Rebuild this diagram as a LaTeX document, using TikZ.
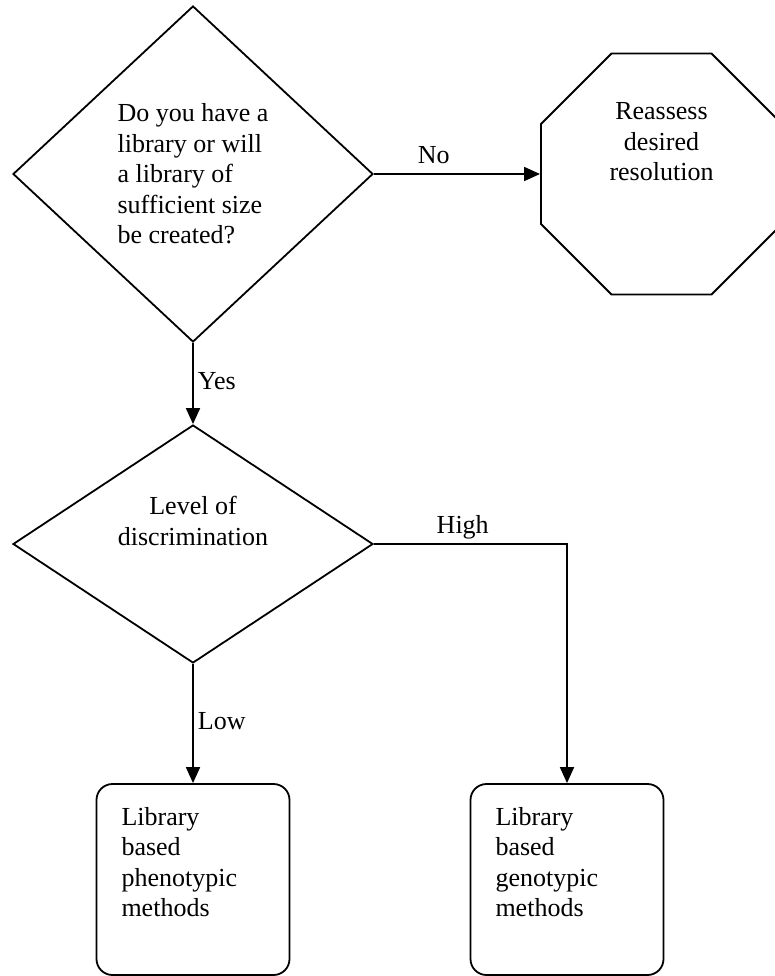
\documentclass[tikz,border=0pt]{standalone}
\usepackage{fontspec}
\setmainfont{Liberation Serif}
\usetikzlibrary{arrows.meta,shapes.geometric,positioning}

\begin{document}
\begin{tikzpicture}[x=1pt,y=-1pt,>={Triangle[length=16pt,width=14pt]},line width=1.8pt,
           font=\fontsize{26}{30.5}\selectfont,
           decision/.style={draw,diamond,inner sep=0pt,minimum width=360pt},
           stopbox/.style={draw,regular polygon,regular polygon sides=8,inner sep=0pt,minimum size=261pt},
           methodbox/.style={draw,rounded corners=16pt,minimum width=193pt,minimum height=191pt},
           boxtext/.style={anchor=north west,align=left,inner sep=0pt},
           edgelabel/.style={inner sep=4pt,text depth=6pt}]
  \useasboundingbox (0,0) rectangle (775,976);
  % questions
  \node[decision,minimum height=336pt,align=left] (q1) at (193,174) {Do you have a\\library or will\\a library of\\sufficient size\\be created?};
  \node[decision,minimum height=238pt] (q2) at (193,544) {};
  \node[align=center] (q2txt) at ([yshift=23pt]q2.center) {Level of\\discrimination};
  % outcomes
  \node[stopbox] (reass) at (661.5,174) {};
  \node[align=center] (reasstxt) at ([yshift=32pt]reass.center) {Reassess\\desired\\resolution};
  \node[methodbox] (pheno) at (193,879.5) {};
  \node[boxtext] (phenotxt) at ([xshift=25pt,yshift=-23pt]pheno.north west) {Library\\based\\phenotypic\\methods};
  \node[methodbox] (geno) at (567,879.5) {};
  \node[boxtext] (genotxt) at ([xshift=25pt,yshift=-23pt]geno.north west) {Library\\based\\genotypic\\methods};
  % connectors
  \draw[->] (q1.east) -- node[edgelabel,above,pos=.36] {No} (reass.west);
  \draw[->] (q1.south) -- node[edgelabel,right] {Yes} (q2.north);
  \draw[->] (q2.east) -| node[edgelabel,above,pos=.23] {High} (geno.north);
  \draw[->] (q2.south) -- node[edgelabel,right] {Low} (pheno.north);
\end{tikzpicture}
\end{document}
